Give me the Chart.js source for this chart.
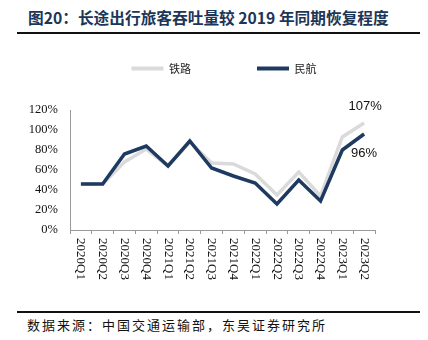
<!DOCTYPE html>
<html>
<head>
<meta charset="utf-8">
<script src="https://cdn.jsdelivr.net/npm/chart.js@4"></script>
<style>
  html, body { margin: 0; padding: 0; background: #fff; }
  #wrap { position: relative; width: 428px; height: 340px; overflow: hidden; }
  #title {
    position: absolute; left: 28px; top: 7px;
    font: bold 15.7px "Noto Sans CJK SC", sans-serif; line-height: 22px;
    color: #1c3658; white-space: nowrap;
  }
  .rule { position: absolute; left: 17px; width: 403px; background: #111; }
  #source {
    position: absolute; left: 27px; top: 316px;
    font: 13px "Noto Sans CJK SC", sans-serif; line-height: 18px;
    letter-spacing: 2px; color: #111; white-space: nowrap;
  }
  #box { position: absolute; left: 0; top: -3px; width: 428px; height: 293px; }
</style>
</head>
<body>
<div id="wrap">
  <div id="title">图20：长途出行旅客吞吐量较 2019 年同期恢复程度</div>
  <div class="rule" style="top:32px;height:2px"></div>
  <div id="box"><canvas id="chart"></canvas></div>
  <div class="rule" style="top:311px;height:1.5px"></div>
  <div id="source">数据来源：中国交通运输部，东吴证券研究所</div>
</div>
<script>
// 季度
const quarters = ['2020Q1', '2020Q2', '2020Q3', '2020Q4', '2021Q1', '2021Q2', '2021Q3',
                  '2021Q4', '2022Q1', '2022Q2', '2022Q3', '2022Q4', '2023Q1', '2023Q2'];
// 恢复程度 (%)
const railway  = [46, 46, 68, 81, 64, 88, 67, 66, 56, 35, 58, 34, 93, 107];
const aviation = [46, 46, 76, 84, 64, 89, 62, 54, 47, 26, 50, 29, 80, 96];
const yTicks = [0, 20, 40, 60, 80, 100, 120];

const AXIS_COLOR = '#9a9a9a';

// push the plot area down below the legend
const legendSpace = {
    id: 'legendSpace',
    beforeInit(chart) {
        const fit = chart.legend.fit;
        chart.legend.fit = function() {
            fit.bind(chart.legend)();
            this.height = 113;
        };
    }
};

// x labels read top to bottom
const xLabels = {
    id: 'xLabels',
    afterDraw(chart) {
        const ctx = chart.ctx;
        const x = chart.scales.x;
        ctx.save();
        ctx.font = '13px "Liberation Serif"';
        ctx.fillStyle = '#111';
        ctx.textAlign = 'left';
        ctx.textBaseline = 'middle';
        quarters.forEach((q, i) => {
            ctx.save();
            ctx.translate(x.getPixelForValue(i), x.top + 8);
            ctx.rotate(Math.PI / 2);
            ctx.fillText(q, 0, 0);
            ctx.restore();
        });
        ctx.restore();
    }
};

// last-point value labels
const endLabels = {
    id: 'endLabels',
    afterDatasetsDraw(chart) {
        const ctx = chart.ctx;
        ctx.save();
        ctx.font = '13px "Liberation Sans"';
        ctx.fillStyle = '#111';
        ctx.textAlign = 'center';
        ctx.textBaseline = 'middle';
        const last = quarters.length - 1;
        const p0 = chart.getDatasetMeta(0).data[last];
        const p1 = chart.getDatasetMeta(1).data[last];
        ctx.fillText(railway[last] + '%', p0.x + 1, p0.y - 17);
        ctx.fillText(aviation[last] + '%', p1.x, p1.y + 19);
        ctx.restore();
    }
};

new Chart(document.getElementById('chart'), {
    type: 'line',
    data: {
        labels: quarters,
        datasets: [{
            label: '铁路',
            data: railway,
            borderColor: '#dadada',
            backgroundColor: '#dadada',
            borderWidth: 3.5,
            pointRadius: 0,
            tension: 0,
            order: 1
        }, {
            label: '民航',
            data: aviation,
            borderColor: '#1e3a60',
            backgroundColor: '#1e3a60',
            borderWidth: 3.5,
            pointRadius: 0,
            tension: 0,
            order: 0
        }]
    },
    options: {
        responsive: true,
        maintainAspectRatio: false,
        animation: false,
        layout: { padding: { left: 20, right: 0, top: 0, bottom: 0 } },
        plugins: {
            legend: {
                position: 'top',
                labels: {
                    boxWidth: 32,
                    boxHeight: 4,
                    padding: 66,
                    color: '#222',
                    font: { family: 'Noto Sans CJK SC', size: 11 },
                    sort: (a, b) => a.datasetIndex - b.datasetIndex,
                    generateLabels(chart) {
                        const items = Chart.defaults.plugins.legend.labels.generateLabels(chart);
                        items.forEach(it => { it.lineWidth = 0; });
                        return items;
                    }
                }
            },
            tooltip: { enabled: false }
        },
        scales: {
            x: {
                type: 'category',
                offset: true,
                grid: {
                    display: true,
                    drawOnChartArea: false,
                    drawTicks: true,
                    tickLength: 4,
                    offset: true,
                    color: AXIS_COLOR
                },
                border: { display: true, color: AXIS_COLOR, width: 1 },
                ticks: { display: false },
                afterFit(s) { s.height = 60; }
            },
            y: {
                min: 0,
                max: 120,
                afterBuildTicks(s) { s.ticks = yTicks.map(v => ({ value: v })); },
                grid: { display: false, drawTicks: false },
                border: { display: true, color: AXIS_COLOR, width: 1 },
                ticks: {
                    padding: 12,
                    color: '#111',
                    font: { family: 'Liberation Serif', size: 12.5 },
                    callback: v => v + '%'
                },
                afterFit(s) { s.width = 50; }
            },
            y2: {
                position: 'right',
                display: true,
                grid: { display: false, drawTicks: false },
                border: { display: false },
                ticks: { display: false },
                afterFit(s) { s.width = 53; }
            }
        }
    },
    plugins: [legendSpace, xLabels, endLabels]
});
</script>
</body>
</html>
